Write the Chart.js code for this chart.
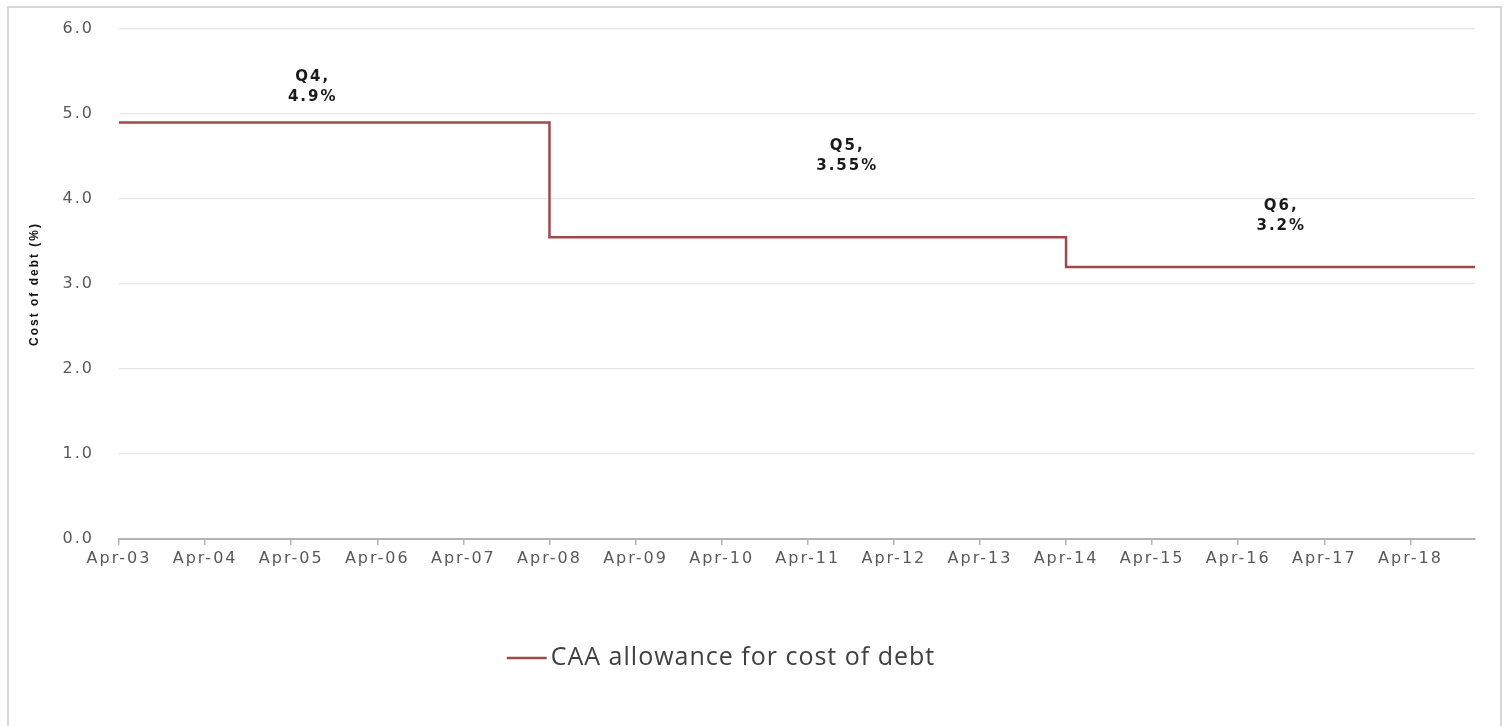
<!DOCTYPE html>
<html>
<head>
<meta charset="utf-8">
<script src="https://cdn.jsdelivr.net/npm/chart.js@4/dist/chart.umd.min.js"></script>
<style>
  body { margin: 0; background: #fff; }
  #wrap { position: relative; width: 1506px; height: 726px; overflow: hidden; }
  #frame { position: absolute; left: 7px; top: 6px; width: 1491px; height: 740px; border: 2px solid #d6d6d6; pointer-events: none; }
  canvas { position: absolute; left: 0; top: 0; }
</style>
</head>
<body>
<div id="wrap">
  <canvas id="chart" width="1506" height="726"></canvas>
  <div id="frame"></div>
</div>
<script>
// months counted from Apr-03
const stepMonths = [0, 60, 132, 189]
const stepValues = [4.9, 3.55, 3.2, 3.2]
const tickLabels = ['Apr-03', 'Apr-04', 'Apr-05', 'Apr-06', 'Apr-07', 'Apr-08', 'Apr-09', 'Apr-10',
  'Apr-11', 'Apr-12', 'Apr-13', 'Apr-14', 'Apr-15', 'Apr-16', 'Apr-17', 'Apr-18']
const seriesLabel = 'CAA allowance for cost of debt'

// period notes, anchored in data units
const noteText = [['Q4,', '4.9%'], ['Q5,', '3.55%'], ['Q6,', '3.2%']]
const noteMonths = [27, 101.5, 162]
const noteLevels = [5.32, 4.5, 3.8]

const lineColor = '#9e4a49'

// the source picture is a bit stretched sideways, so space the letters out
const spacing = {
  id: 'spacing',
  beforeUpdate (chart) { chart.ctx.letterSpacing = '2px' },
  beforeDraw (chart) { chart.ctx.letterSpacing = '2px' }
}

const notes = {
  id: 'notes',
  afterDatasetsDraw (chart) {
    const { ctx, scales: { x, y } } = chart
    ctx.save()
    ctx.font = 'bold 15px "DejaVu Sans"'
    ctx.letterSpacing = '2px'
    ctx.fillStyle = '#1a1a1a'
    ctx.textAlign = 'center'
    ctx.textBaseline = 'middle'
    noteText.forEach((lines, i) => {
      const px = x.getPixelForValue(noteMonths[i])
      const py = y.getPixelForValue(noteLevels[i])
      ctx.fillText(lines[0], px, py - 10)
      ctx.fillText(lines[1], px, py + 10)
    })
    ctx.restore()
  }
}

const legendBox = {
  id: 'legendBox',
  afterDraw (chart) {
    const { ctx, chartArea } = chart
    const ds = chart.data.datasets[0]
    const yy = chartArea.bottom + 119
    ctx.save()
    ctx.font = '25px "Open Sans"'
    ctx.letterSpacing = '1px'
    const w = ctx.measureText(ds.label).width
    const total = 40 + 4 + w
    const x0 = 721 - total / 2
    ctx.strokeStyle = ds.borderColor
    ctx.lineWidth = 2.5
    ctx.beginPath()
    ctx.moveTo(x0, yy)
    ctx.lineTo(x0 + 40, yy)
    ctx.stroke()
    ctx.fillStyle = '#404040'
    ctx.textBaseline = 'middle'
    ctx.fillText(ds.label, x0 + 44, yy)
    ctx.restore()
  }
}

document.addEventListener('DOMContentLoaded', () => {
  const canvas = document.getElementById('chart')
  new Chart(canvas, {
    type: 'line',
    data: {
      datasets: [{
        label: seriesLabel,
        data: stepMonths.map((m, i) => ({ x: m, y: stepValues[i] })),
        borderColor: lineColor,
        borderWidth: 2.5,
        pointRadius: 0,
        stepped: true,
        fill: false
      }]
    },
    options: {
      responsive: false,
      animation: false,
      layout: { autoPadding: false, padding: { left: 10, right: 31, top: 29, bottom: 147 } },
      plugins: { legend: { display: false }, tooltip: { enabled: false } },
      scales: {
        x: {
          type: 'linear',
          min: 0,
          max: stepMonths[stepMonths.length - 1],
          afterBuildTicks: (scale) => {
            scale.ticks = scale.ticks.filter(t => t.value % 12 === 0 && t.value / 12 < tickLabels.length)
          },
          afterFit: (scale) => { scale.height = 40 },
          ticks: {
            stepSize: 12,
            autoSkip: false,
            maxRotation: 0,
            padding: 4,
            color: '#595959',
            font: { family: 'DejaVu Sans', size: 16 },
            callback: (v) => tickLabels[v / 12]
          },
          grid: { drawOnChartArea: false, drawTicks: true, tickLength: 6, color: '#b3b3b3', lineWidth: 1.5 },
          border: { color: '#b3b3b3', width: 2 }
        },
        y: {
          min: 0,
          max: 6,
          afterFit: (scale) => {
            scale.width = 109
            scale.paddingTop = 10
            scale.paddingBottom = 10
          },
          ticks: {
            stepSize: 1,
            padding: 25,
            color: '#595959',
            font: { family: 'DejaVu Sans', size: 16 },
            callback: (v) => v.toFixed(1)
          },
          grid: { color: '#e6e6e6', lineWidth: 1.2, drawTicks: false },
          border: { display: false },
          title: {
            display: true,
            text: 'Cost of debt (%)',
            color: '#111',
            font: { family: '"Liberation Sans Narrow", "Liberation Sans"', size: 12, weight: 'bold' },
            padding: { top: 17, bottom: 0 }
          }
        }
      }
    },
    plugins: [spacing, notes, legendBox]
  })
})
</script>
</body>
</html>
